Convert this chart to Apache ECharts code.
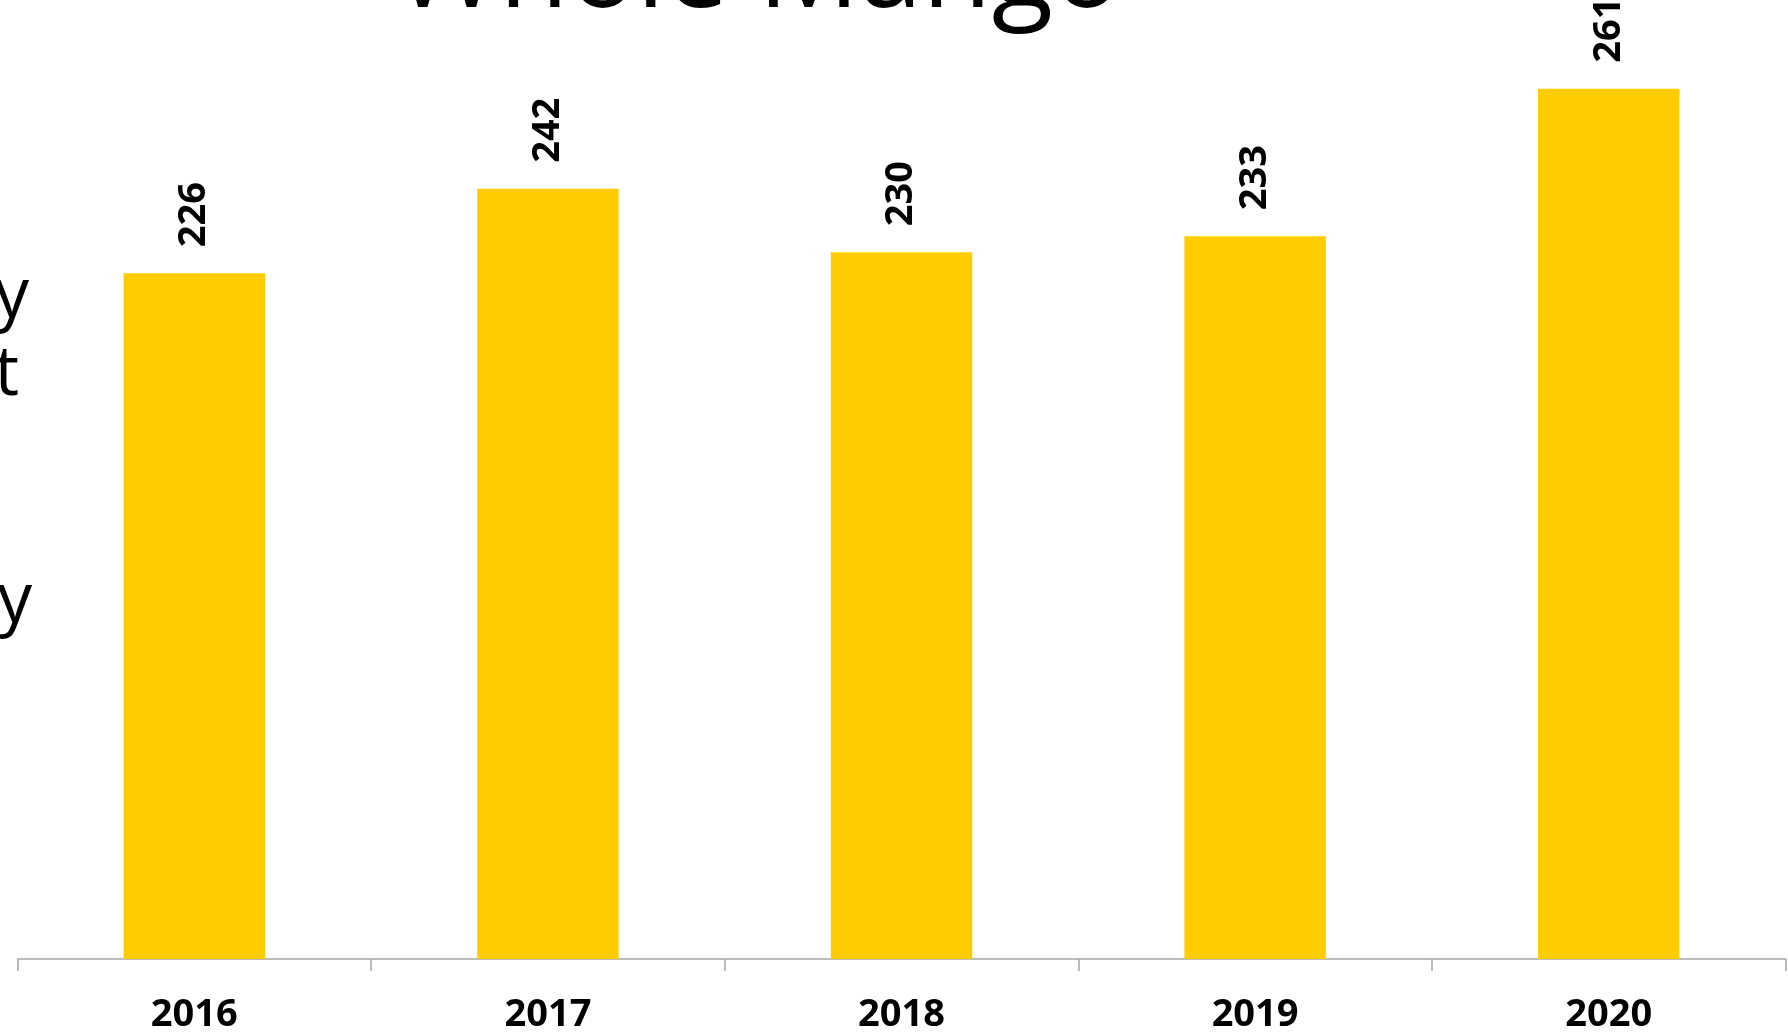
<!DOCTYPE html>
<html>
<head>
<meta charset="utf-8">
<title>Whole Mango</title>
<script src="https://cdn.jsdelivr.net/npm/echarts@6/dist/echarts.min.js"></script>
<style>
  html, body { margin: 0; padding: 0; background: #fff; }
  .bar { width: 1788px; height: 1034px; }
</style>
</head>
<body>
<div class="bar"></div>
<script>
// data
var years = ["2016", "2017", "2018", "2019", "2020"];
var volumes = [226, 242, 230, 233, 261];
// cut-off text fragments at the left edge
var sideText = ["y", "t", "y"];

(function () {
  // 1. init
  var myChart = echarts.init(document.querySelector(".bar"));
  var font = "'Open Sans', 'Noto Sans', sans-serif";

  // 2. option
  var option = {
    backgroundColor: "#fff",
    animation: false,
    grid: {
      left: 17.5,
      right: 2.5,
      top: 9.5,
      bottom: 69,
      containLabel: false,
    },
    xAxis: {
      type: "category",
      data: years,
      axisLine: {
        lineStyle: { color: "#a6a6a6", width: 1.5 },
      },
      axisTick: {
        show: true,
        alignWithLabel: false,
        length: 12,
        lineStyle: { color: "#a6a6a6", width: 1.5 },
      },
      axisLabel: {
        color: "#000",
        fontFamily: font,
        fontWeight: "bold",
        fontSize: 38,
        margin: 37,
      },
    },
    yAxis: {
      type: "value",
      show: false,
      min: 96,
      max: 276,
      splitLine: { show: false },
    },
    series: [
      {
        type: "bar",
        data: volumes,
        barCategoryGap: "60%",
        itemStyle: { color: "#ffcc00" },
        label: {
          show: true,
          position: "top",
          rotate: 90,
          align: "left",
          verticalAlign: "middle",
          distance: 26,
          color: "#000",
          fontFamily: font,
          fontWeight: "bold",
          fontSize: 38,
        },
      },
    ],
    graphic: [
      // title sits mostly above the picture
      {
        type: "text",
        x: 758,
        y: -25,
        style: {
          text: "Whole Mango",
          fill: "#000",
          font: "113px " + font,
          textAlign: "center",
          textVerticalAlign: "middle",
        },
      },
      {
        type: "text",
        x: 29,
        y: 297,
        style: { text: sideText[0], fill: "#000", font: "69px " + font, textAlign: "right", textVerticalAlign: "middle" },
      },
      {
        type: "text",
        x: 19,
        y: 375,
        style: { text: sideText[1], fill: "#000", font: "69px " + font, textAlign: "right", textVerticalAlign: "middle" },
      },
      {
        type: "text",
        x: 32,
        y: 602,
        style: { text: sideText[2], fill: "#000", font: "69px " + font, textAlign: "right", textVerticalAlign: "middle" },
      },
    ],
  };

  // 3. set option
  myChart.setOption(option);
  window.addEventListener("resize", function () {
    myChart.resize();
  });
})();
</script>
</body>
</html>
